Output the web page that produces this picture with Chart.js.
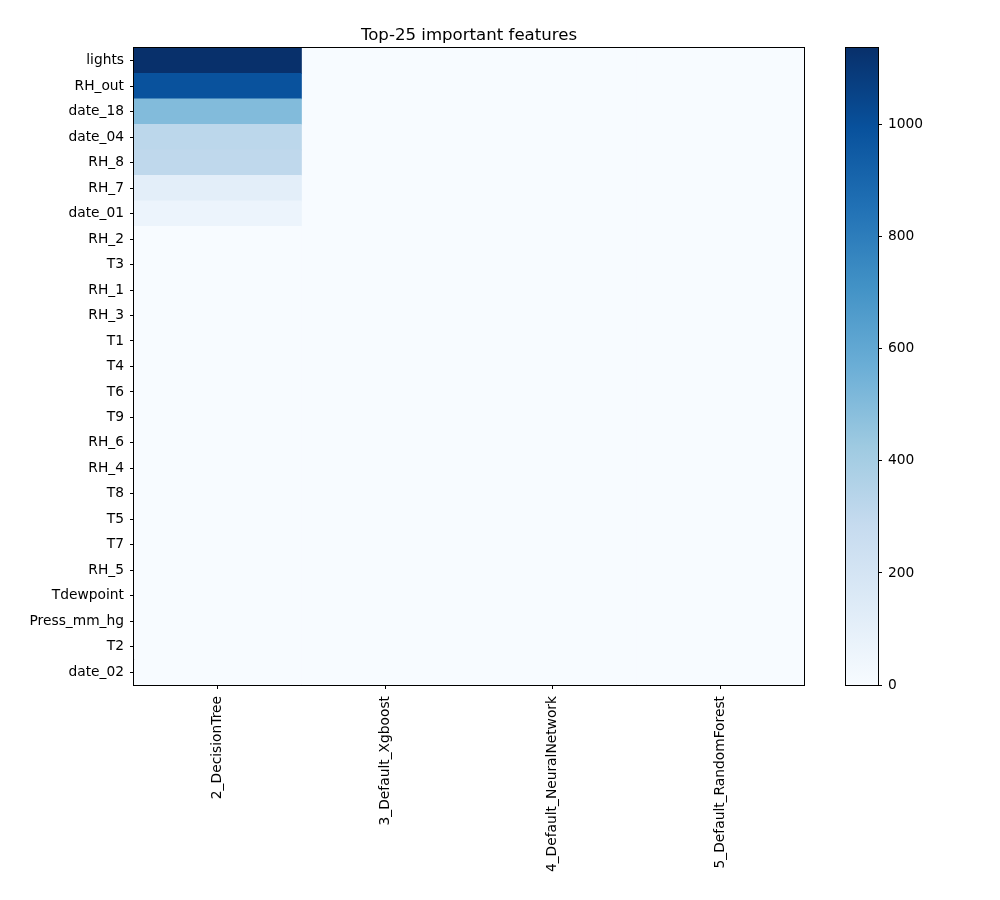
<!DOCTYPE html>
<html>
<head>
<meta charset="utf-8">
<script src="https://cdn.jsdelivr.net/npm/chart.js@4"></script>
<style>
  body { margin: 0; background: #fff; }
  .wrap { position: relative; width: 1000px; height: 900px; }
  canvas { position: absolute; left: 0; top: 0; }
</style>
</head>
<body>
<div class="wrap">
  <canvas id="heat" width="1000" height="900"></canvas>
  <canvas id="cbar" width="1000" height="900"></canvas>
</div>
<script>
// rows (features) and columns (models)
const features = ['lights', 'RH_out', 'date_18', 'date_04', 'RH_8', 'RH_7', 'date_01', 'RH_2', 'T3', 'RH_1',
  'RH_3', 'T1', 'T4', 'T6', 'T9', 'RH_6', 'RH_4', 'T8', 'T5', 'T7', 'RH_5', 'Tdewpoint', 'Press_mm_hg', 'T2', 'date_02'];
const models = ['2_DecisionTree', '3_Default_Xgboost', '4_Default_NeuralNetwork', '5_Default_RandomForest'];

// importance per model, in feature order
const decisionTree = [1137, 990, 505, 320, 310, 114, 62, 0, 0, 0, 0, 0, 0, 0, 0, 0, 0, 0, 0, 0, 0, 0, 0, 0, 0];
const xgboost = [0, 0, 0, 0, 0, 0, 0, 0, 0, 0, 0, 0, 0, 0, 0, 0, 0, 0, 0, 0, 0, 0, 0, 0, 0];
const neuralNet = [0, 0, 0, 0, 0, 0, 0, 0, 0, 0, 0, 0, 0, 0, 0, 0, 0, 0, 0, 0, 0, 0, 0, 0, 0];
const randomForest = [0, 0, 0, 0, 0, 0, 0, 0, 0, 0, 0, 0, 0, 0, 0, 0, 0, 0, 0, 0, 0, 0, 0, 0, 0];
const columns = [decisionTree, xgboost, neuralNet, randomForest];

const vmin = 0, vmax = 1137;
const cbarTicks = [0, 200, 400, 600, 800, 1000];

// matplotlib "Blues"
const blues = ['#f7fbff', '#deebf7', '#c6dbef', '#9ecae1', '#6baed6', '#4292c6', '#2171b5', '#08519c', '#08306b'];

function hexRgb(h) {
  return [parseInt(h.slice(1, 3), 16), parseInt(h.slice(3, 5), 16), parseInt(h.slice(5, 7), 16)];
}
function bluesColor(v) {
  let t = (v - vmin) / (vmax - vmin);
  t = Math.max(0, Math.min(1, t)) * (blues.length - 1);
  const i = Math.min(Math.floor(t), blues.length - 2);
  const f = t - i;
  const a = hexRgb(blues[i]), b = hexRgb(blues[i + 1]);
  const c = a.map((x, k) => Math.round(x + (b[k] - x) * f));
  return `rgb(${c[0]},${c[1]},${c[2]})`;
}

const font = { family: 'DejaVu Sans', size: 13.8 };
Chart.defaults.color = '#000';

const frame = {
  id: 'frame',
  afterDraw(chart) {
    const a = chart.chartArea, ctx = chart.ctx;
    ctx.save();
    ctx.strokeStyle = '#000';
    ctx.lineWidth = 1;
    ctx.strokeRect(Math.round(a.left) - 0.5, Math.round(a.top) - 0.5,
      Math.round(a.right - a.left) + 1, Math.round(a.bottom - a.top) + 1);
    ctx.restore();
  }
};

const datasets = columns.map((vals, c) => ({
  label: models[c],
  data: vals.map(() => [c, c + 1]),
  backgroundColor: vals.map(bluesColor),
  borderWidth: 0,
  barPercentage: 1,
  categoryPercentage: 1
}));

new Chart(document.getElementById('heat'), {
  type: 'bar',
  data: { labels: features, datasets },
  options: {
    responsive: false,
    animation: false,
    indexAxis: 'y',
    layout: { padding: { left: 0, right: 196, top: 0, bottom: 0 } },
    plugins: {
      legend: { display: false },
      tooltip: { enabled: false },
      title: {
        display: true,
        text: 'Top-25 important features',
        fullSize: false,
        color: '#000',
        font: { family: 'DejaVu Sans', size: 16.6, weight: 'normal' },
        padding: { top: 26, bottom: 2 }
      }
    },
    scales: {
      y: {
        stacked: true,
        offset: true,
        afterFit: s => { s.width = 134; },
        grid: { display: true, offset: false, drawOnChartArea: false, color: '#000', tickLength: 4 },
        border: { display: true, color: '#000' },
        ticks: { font, padding: 6, autoSkip: false }
      },
      x: {
        type: 'linear',
        min: 0,
        max: columns.length,
        afterFit: s => { s.height = 215; },
        afterBuildTicks: s => { s.ticks = models.map((m, i) => ({ value: i + 0.5 })); },
        grid: { display: true, drawOnChartArea: false, color: '#000', tickLength: 4 },
        border: { display: true, color: '#000' },
        ticks: {
          font, padding: 7, autoSkip: false, minRotation: 90, maxRotation: 90,
          callback: v => models[Math.floor(v)]
        }
      }
    }
  },
  plugins: [frame]
});

// colour bar
new Chart(document.getElementById('cbar'), {
  type: 'bar',
  data: {
    labels: [''],
    datasets: [{
      data: [[vmin, vmax]],
      borderWidth: 0,
      barPercentage: 1,
      categoryPercentage: 1,
      backgroundColor: ctx => {
        const a = ctx.chart.chartArea;
        if (!a) return blues[0];
        const g = ctx.chart.ctx.createLinearGradient(0, a.bottom, 0, a.top);
        blues.forEach((c, i) => g.addColorStop(i / (blues.length - 1), c));
        return g;
      }
    }]
  },
  options: {
    responsive: false,
    animation: false,
    layout: { padding: { left: 846, right: 0, top: 48, bottom: 215 } },
    plugins: { legend: { display: false }, tooltip: { enabled: false } },
    scales: {
      x: { display: false },
      y: {
        position: 'right',
        min: vmin,
        max: vmax,
        afterFit: s => { s.width = 122; },
        afterBuildTicks: s => { s.ticks = cbarTicks.map(v => ({ value: v })); },
        grid: { display: true, drawOnChartArea: false, color: '#000', tickLength: 4 },
        border: { display: true, color: '#000' },
        ticks: { font, padding: 6, callback: v => String(v) }
      }
    }
  },
  plugins: [frame]
});
</script>
</body>
</html>
